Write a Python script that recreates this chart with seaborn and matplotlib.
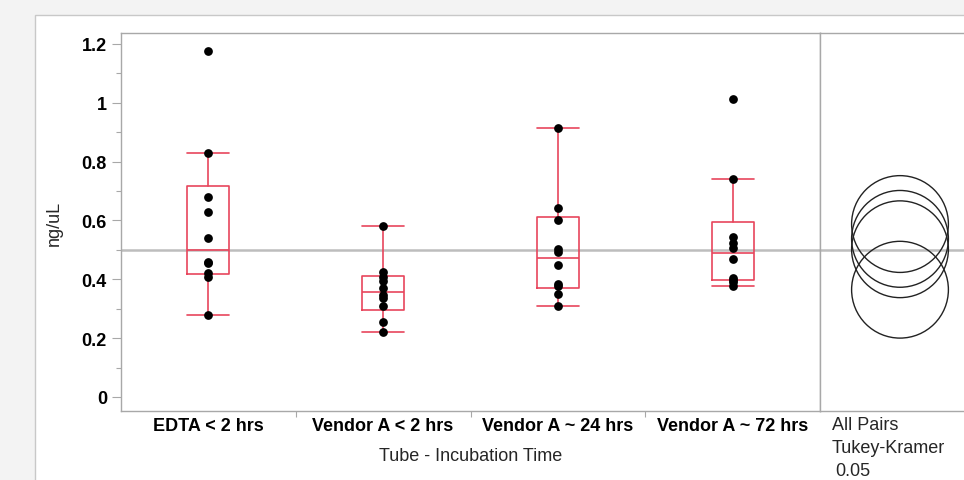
import numpy as np
import pandas as pd
import seaborn as sns
import matplotlib.pyplot as plt
from matplotlib.patches import Circle, Rectangle
from matplotlib.ticker import MultipleLocator, FuncFormatter

# values (ng/uL), 10 tubes per group
groups = ["EDTA < 2 hrs", "Vendor A < 2 hrs", "Vendor A ~ 24 hrs", "Vendor A ~ 72 hrs"]
edta_2h = [1.175, 0.830, 0.680, 0.630, 0.540, 0.459, 0.455, 0.421, 0.409, 0.279]
vendor_2h = [0.580, 0.425, 0.408, 0.395, 0.372, 0.345, 0.335, 0.310, 0.254, 0.222]
vendor_24h = [0.913, 0.641, 0.602, 0.503, 0.492, 0.450, 0.384, 0.376, 0.350, 0.310]
vendor_72h = [1.013, 0.741, 0.545, 0.525, 0.507, 0.469, 0.405, 0.399, 0.392, 0.378]
series = [edta_2h, vendor_2h, vendor_24h, vendor_72h]

QSTAR = 2.693  # Tukey-Kramer q*/sqrt(2), k=4, df=36, alpha=0.05

df = pd.DataFrame({
    "tube": np.repeat(groups, [len(s) for s in series]),
    "ngul": np.concatenate(series),
})

RED = "#e8455c"
GRID = "#a8a8a8"


def jmp_box(vals, label):
    v = np.sort(np.asarray(vals))
    q1, med, q3 = np.percentile(v, [25, 50, 75], method="weibull")
    iqr = q3 - q1
    lo = v[v >= q1 - 1.5 * iqr].min()
    hi = v[v <= q3 + 1.5 * iqr].max()
    return dict(med=med, q1=q1, q3=q3, whislo=lo, whishi=hi, fliers=[], label=label)


sns.set_style("white")
plt.rcParams["font.family"] = ["Liberation Sans", "DejaVu Sans"]

W, H = 964, 481
fig = plt.figure(figsize=(W / 100, H / 100), dpi=100, facecolor="#f3f3f3")
fig.add_artist(Rectangle((35 / W, -0.1), 1.0, 1 - 16 / H + 0.1, transform=fig.transFigure,
                         facecolor="white", edgecolor="#c8c8c8", lw=1, zorder=0))

ax = fig.add_axes([121 / W, 1 - 412 / H, 699 / W, 378 / H])
ax2 = fig.add_axes([820 / W, 1 - 412 / H, 160 / W, 378 / H])

grand = df["ngul"].mean()
ax.axhline(grand, color="#bdbdbd", lw=1.8, zorder=1)

stats = [jmp_box(s, g) for s, g in zip(series, groups)]
ax.bxp(stats, positions=range(len(groups)), widths=0.24, capwidths=0.24,
       showfliers=False, manage_ticks=False,
       boxprops=dict(color=RED, lw=1.2), whiskerprops=dict(color=RED, lw=1.2),
       capprops=dict(color=RED, lw=1.2), medianprops=dict(color=RED, lw=1.2))

sns.stripplot(data=df, x="tube", y="ngul", order=groups, jitter=False,
              color="black", size=6.3, linewidth=0, ax=ax, zorder=3)

ymin, ymax = -0.0476, 1.237
ax.set_xlim(-0.5, len(groups) - 0.5)
ax.set_ylim(ymin, ymax)
ax.set_xlabel("")
ax.set_ylabel("")
ax.yaxis.set_major_locator(MultipleLocator(0.2))
ax.yaxis.set_minor_locator(MultipleLocator(0.1))
ax.yaxis.set_major_formatter(FuncFormatter(lambda v, p: f"{v:g}"))
ax.set_xticks(range(len(groups)))
ax.set_xticklabels(groups, fontweight="bold", fontsize=13)
ax.set_xticks([0.5, 1.5, 2.5], minor=True)
for lab in ax.get_yticklabels():
    lab.set_fontweight("bold")
ax.tick_params(axis="y", which="major", left=True, length=6.5, width=0.8,
               color=GRID, pad=3.6, labelsize=13, labelcolor="black")
ax.tick_params(axis="y", which="minor", left=True, length=3.6, width=0.8, color=GRID)
ax.tick_params(axis="x", which="major", bottom=True, length=0, pad=4.6, labelcolor="black")
ax.tick_params(axis="x", which="minor", bottom=True, length=4, width=0.8, color=GRID)
for sp in ax.spines.values():
    sp.set_color(GRID)
    sp.set_linewidth(1)

# comparison circles panel
ax2.set_ylim(ymin, ymax)
half = 80 / (378 / (ymax - ymin))
ax2.set_xlim(-half, half)
ax2.axhline(grand, color="#bdbdbd", lw=1.8, zorder=1)
ss = sum(((np.asarray(s) - np.mean(s)) ** 2).sum() for s in series)
mse = ss / (len(df) - len(groups))
for s in series:
    r = QSTAR * np.sqrt(mse / len(s))
    ax2.add_patch(Circle((0, np.mean(s)), r, fill=False, ec="#222222", lw=1.0, zorder=2))
ax2.set_xticks([])
ax2.set_yticks([])
for name, sp in ax2.spines.items():
    sp.set_color(GRID)
    sp.set_linewidth(1)
ax2.spines["right"].set_visible(False)

fig.text(54.5 / W, 1 - 223 / H, "ng/uL", rotation=90, ha="center", va="center", fontsize=13)
fig.text(470.5 / W, 1 - 457 / H, "Tube - Incubation Time", ha="center", va="center", fontsize=13)
fig.text(832 / W, 1 - 426 / H, "All Pairs", va="center", fontsize=13)
fig.text(832 / W, 1 - 449 / H, "Tukey-Kramer", va="center", fontsize=13)
fig.text(835 / W, 1 - 472 / H, "0.05", va="center", fontsize=13)

fig.savefig("out.png", dpi=100, facecolor=fig.get_facecolor())
